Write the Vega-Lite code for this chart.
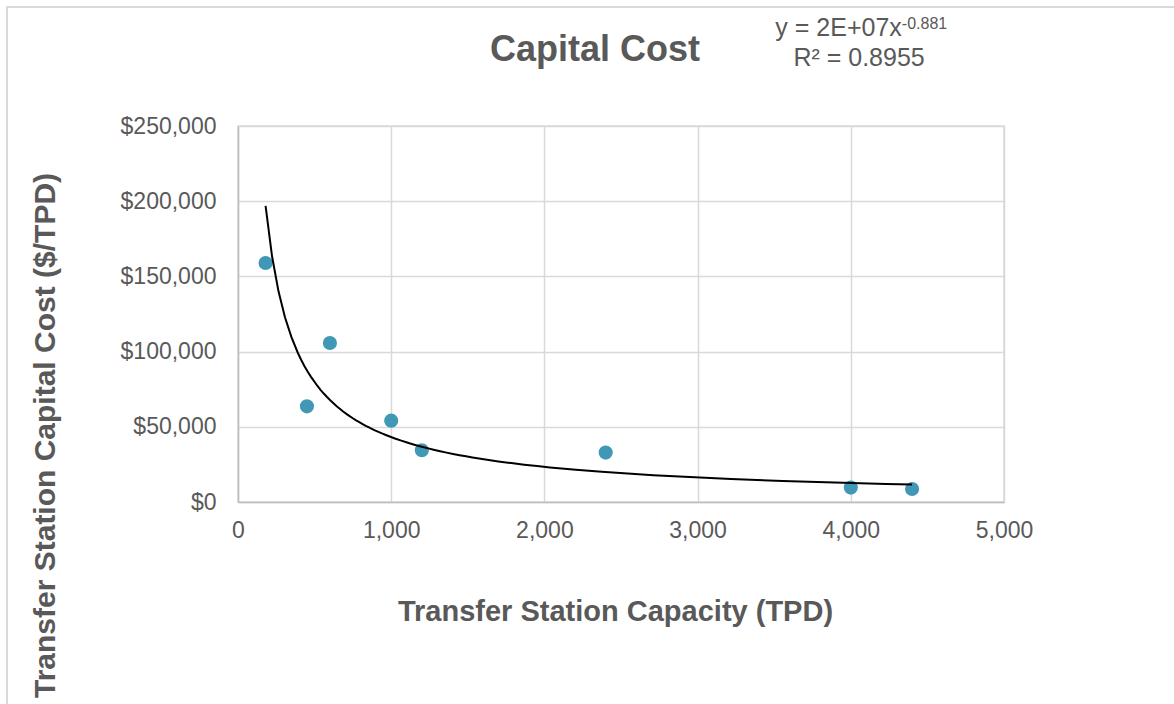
{
  "$schema": "https://vega.github.io/schema/vega-lite/v6.json",
  "autosize": {"type": "none"},
  "width": 766,
  "height": 376,
  "padding": {"left": 238, "top": 126, "right": 170, "bottom": 202},
  "background": "white",
  "title": {
    "text": "Capital Cost",
    "font": "Liberation Sans",
    "fontSize": 36,
    "fontWeight": "bold",
    "color": "#595959",
    "anchor": "middle",
    "frame": "group",
    "baseline": "alphabetic",
    "dx": -26,
    "offset": -91
  },
  "data": {
    "values": [
      {"capacity": 180, "cost": 158900},
      {"capacity": 450, "cost": 63600},
      {"capacity": 600, "cost": 105700},
      {"capacity": 1000, "cost": 54100},
      {"capacity": 1200, "cost": 34400},
      {"capacity": 2400, "cost": 32850},
      {"capacity": 4000, "cost": 9600},
      {"capacity": 4400, "cost": 8640}
    ]
  },
  "layer": [
    {
      "data": {"values": [{"frame": "chart"}]},
      "mark": {"type": "rect", "filled": false, "fill": "transparent", "stroke": "#d9d9d9", "strokeWidth": 2},
      "encoding": {
        "x": {"datum": -1508, "type": "quantitative"},
        "x2": {"datum": 6149},
        "y": {"datum": 329122, "type": "quantitative"},
        "y2": {"datum": -138300}
      }
    },
    {
      "mark": {"type": "point", "filled": true, "size": 200, "color": "#4198B6", "opacity": 1, "strokeWidth": 0},
      "encoding": {
        "x": {
          "field": "capacity",
          "type": "quantitative",
          "scale": {"domain": [0, 5000], "nice": false, "zero": true},
          "axis": {
            "title": "Transfer Station Capacity (TPD)",
            "values": [0, 1000, 2000, 3000, 4000, 5000],
            "format": ",.0f",
            "titleX": 377,
            "titleY": 118,
            "titleFontSize": 29,
            "titleBaseline": "alphabetic",
            "titleAlign": "center",
            "labelPadding": 35,
            "labelBaseline": "alphabetic",
            "labelFlush": false
          }
        },
        "y": {
          "field": "cost",
          "type": "quantitative",
          "scale": {"domain": [0, 250000], "nice": false},
          "axis": {
            "title": "Transfer Station Capital Cost ($/TPD)",
            "values": [0, 50000, 100000, 150000, 200000, 250000],
            "format": "$,.0f",
            "titleX": -184,
            "titleY": 309,
            "titleAngle": 270,
            "titleFontSize": 30,
            "titleBaseline": "alphabetic",
            "titleAlign": "center",
            "labelPadding": 22,
            "labelBaseline": "middle",
            "labelFlush": false
          }
        }
      }
    },
    {
      "transform": [{"regression": "cost", "on": "capacity", "method": "pow"}],
      "mark": {"type": "line", "color": "#000000", "strokeWidth": 2},
      "encoding": {
        "x": {"field": "capacity", "type": "quantitative"},
        "y": {"field": "cost", "type": "quantitative"}
      }
    },
    {
      "data": {"values": [{"label": "y = 2E+07x"}]},
      "mark": {"type": "text", "font": "Liberation Sans", "fontSize": 25, "fontWeight": "normal", "color": "#595959", "align": "right", "baseline": "alphabetic"},
      "encoding": {
        "x": {"datum": 4333, "type": "quantitative"},
        "y": {"datum": 309640, "type": "quantitative"},
        "text": {"field": "label"}
      }
    },
    {
      "data": {"values": [{"label": "-0.881"}]},
      "mark": {"type": "text", "font": "Liberation Sans", "fontSize": 16, "fontWeight": "normal", "color": "#595959", "align": "left", "baseline": "alphabetic"},
      "encoding": {
        "x": {"datum": 4333, "type": "quantitative"},
        "y": {"datum": 314760, "type": "quantitative"},
        "text": {"field": "label"}
      }
    },
    {
      "data": {"values": [{"label": "R² = 0.8955"}]},
      "mark": {"type": "text", "font": "Liberation Sans", "fontSize": 25, "fontWeight": "normal", "color": "#595959", "align": "center", "baseline": "alphabetic"},
      "encoding": {
        "x": {"datum": 4054, "type": "quantitative"},
        "y": {"datum": 289900, "type": "quantitative"},
        "text": {"field": "label"}
      }
    }
  ],
  "config": {
    "font": "Liberation Sans",
    "view": {"stroke": "#d9d9d9", "strokeWidth": 1.5},
    "axis": {
      "grid": true,
      "gridColor": "#d9d9d9",
      "gridWidth": 1.5,
      "domainColor": "#bfbfbf",
      "domainWidth": 1.5,
      "ticks": false,
      "labelFont": "Liberation Sans",
      "labelFontSize": 23,
      "labelColor": "#595959",
      "titleFont": "Liberation Sans",
      "titleFontWeight": "bold",
      "titleColor": "#595959"
    }
  }
}
